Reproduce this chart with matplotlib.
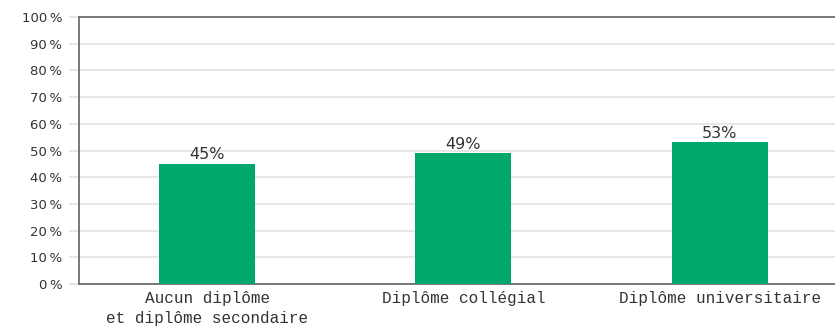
import matplotlib
matplotlib.use("Agg")
import matplotlib.pyplot as plt

categories = ["Aucun diplôme\net diplôme secondaire", "Diplôme collégial", "Diplôme universitaire"]
values = [45, 49, 53]
yticks = [0, 10, 20, 30, 40, 50, 60, 70, 80, 90, 100]
ytick_labels = [f"{v}\u2009%" for v in yticks]

bar_color = "#00A96B"
text_color = "#333333"

fig = plt.figure(figsize=(8.35, 3.29), dpi=100)
ax = fig.add_axes([79 / 835, 1 - 284 / 329, 1 - 79 / 835, (284 - 17) / 329])

x = list(range(len(categories)))
ax.bar(x, values, width=0.375, color=bar_color, zorder=3)

for xi, v in zip(x, values):
    ax.text(xi, v + 0.6, f"{v}%", ha="center", va="bottom", fontsize=11.5,
            color=text_color, family="DejaVu Sans")

ax.set_xlim(-0.5, 2.45)
ax.set_ylim(0, 100)
ax.set_yticks(yticks)
ax.set_yticklabels(ytick_labels, fontsize=9.5, color=text_color)
ax.set_xticks(x)
ax.set_xticklabels(categories, fontsize=11.5, color=text_color, family="Liberation Mono",
                   linespacing=1.4)

ax.grid(axis="y", color="#e3e3e3", linewidth=1.2, zorder=0)
ax.tick_params(axis="y", length=7, color="#e3e3e3", width=1.2, pad=5)
ax.tick_params(axis="x", length=0, pad=5)

ax.spines["right"].set_visible(False)
for side in ["left", "bottom", "top"]:
    ax.spines[side].set_color("#6e6e6e")
    ax.spines[side].set_linewidth(1.3)

fig.savefig("out.png", dpi=100)
